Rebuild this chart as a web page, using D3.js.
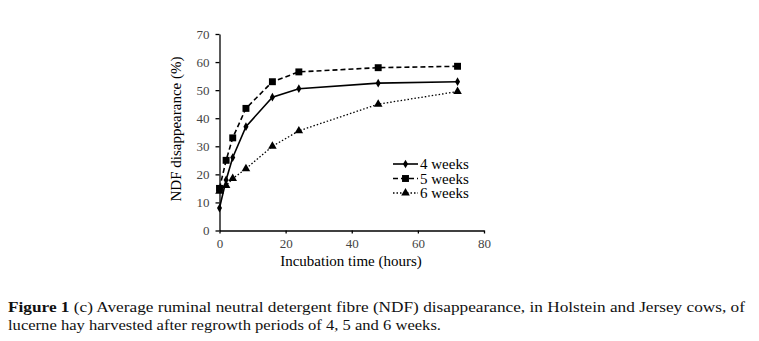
<!DOCTYPE html>
<html><head><meta charset="utf-8">
<script src="https://cdn.jsdelivr.net/npm/d3@7"></script>
<style>body{margin:0;background:#fff}svg{display:block}</style>
</head><body>
<svg id="c" width="759" height="341"></svg>
<script>
const hours = [0, 2, 4, 8, 16, 24, 48, 72];
const weeks4 = [8, 18, 26, 37, 47.5, 50.5, 52.5, 53];
const weeks5 = [15, 25, 33, 43.5, 53, 56.5, 58, 58.5];
const weeks6 = [14, 16, 18.5, 22, 30, 35.5, 45, 49.5];
const seriesNames = ["4 weeks", "5 weeks", "6 weeks"];
const xTicks = [0, 20, 40, 60, 80];
const yTicks = [0, 10, 20, 30, 40, 50, 60, 70];

const svg = d3.select("#c");
const font = "'Liberation Serif', 'Times New Roman', serif";
const x = d3.scaleLinear().domain([0, 80]).range([219.5, 484]);
const y = d3.scaleLinear().domain([0, 70]).range([230.5, 34]);

const xAxis = svg.append("g").attr("transform", `translate(0,${y(0)})`)
  .call(d3.axisBottom(x).tickValues(xTicks).tickSize(3).tickSizeOuter(0).tickPadding(5));
const yAxis = svg.append("g").attr("transform", `translate(${x(0)},0)`)
  .call(d3.axisLeft(y).tickValues(yTicks).tickSize(4).tickSizeOuter(0).tickPadding(6));
[xAxis, yAxis].forEach(a => {
  a.selectAll("path,line").attr("stroke", "#000").attr("stroke-width", 1.3);
  a.selectAll("text").attr("font-family", font).attr("font-size", 13).attr("fill", "#444");
});

svg.append("text").attr("x", 351).attr("y", 266).attr("text-anchor", "middle")
  .attr("font-family", font).attr("font-size", 15).text("Incubation time (hours)");
svg.append("text").attr("transform", "translate(181,129) rotate(-90)").attr("text-anchor", "middle")
  .attr("font-family", font).attr("font-size", 15).text("NDF disappearance (%)");

const data = [weeks4, weeks5, weeks6];
const dashes = [null, "5,3", "1.5,2"];
const widths = [1.6, 1.6, 1.3];
const line = d3.line().x((d, i) => x(hours[i])).y(d => y(d));
const sym = [d3.symbolDiamond, d3.symbolSquare, d3.symbolTriangle];
const sizes = [22, 48, 32];

data.forEach((vals, k) => {
  svg.append("path").datum(vals).attr("d", line).attr("fill", "none")
    .attr("stroke", "#000").attr("stroke-width", widths[k]).attr("stroke-dasharray", dashes[k]);
});
data.forEach((vals, k) => {
  svg.append("g").selectAll("path").data(vals).join("path")
    .attr("d", d3.symbol().type(sym[k]).size(sizes[k]))
    .attr("transform", (d, i) => `translate(${x(hours[i])},${y(d)})`)
    .attr("fill", "#000");
});

// legend
const lg = svg.append("g");
seriesNames.forEach((n, k) => {
  const ly = 164 + k * 14.5;
  lg.append("line").attr("x1", 393).attr("x2", 418).attr("y1", ly).attr("y2", ly)
    .attr("stroke", "#000").attr("stroke-width", widths[k]).attr("stroke-dasharray", dashes[k]);
  lg.append("path").attr("d", d3.symbol().type(sym[k]).size(sizes[k]))
    .attr("transform", `translate(405.5,${ly})`).attr("fill", "#000");
  lg.append("text").attr("x", 420).attr("y", ly + 5).attr("font-family", font)
    .attr("font-size", 15).text(n);
});

// caption
const cap1 = svg.append("text").attr("x", 8).attr("y", 312).attr("font-family", font)
  .attr("font-size", 15.5).attr("fill", "#111")
  .attr("textLength", 737).attr("lengthAdjust", "spacingAndGlyphs");
cap1.append("tspan").attr("font-weight", "bold").text("Figure 1 ");
cap1.append("tspan").text("(c) Average ruminal neutral detergent fibre (NDF) disappearance, in Holstein and Jersey cows, of");
svg.append("text").attr("x", 8).attr("y", 330).attr("font-family", font)
  .attr("font-size", 15.5).attr("fill", "#111")
  .attr("textLength", 433).attr("lengthAdjust", "spacingAndGlyphs")
  .text("lucerne hay harvested after regrowth periods of 4, 5 and 6 weeks.");
</script>
</body></html>
